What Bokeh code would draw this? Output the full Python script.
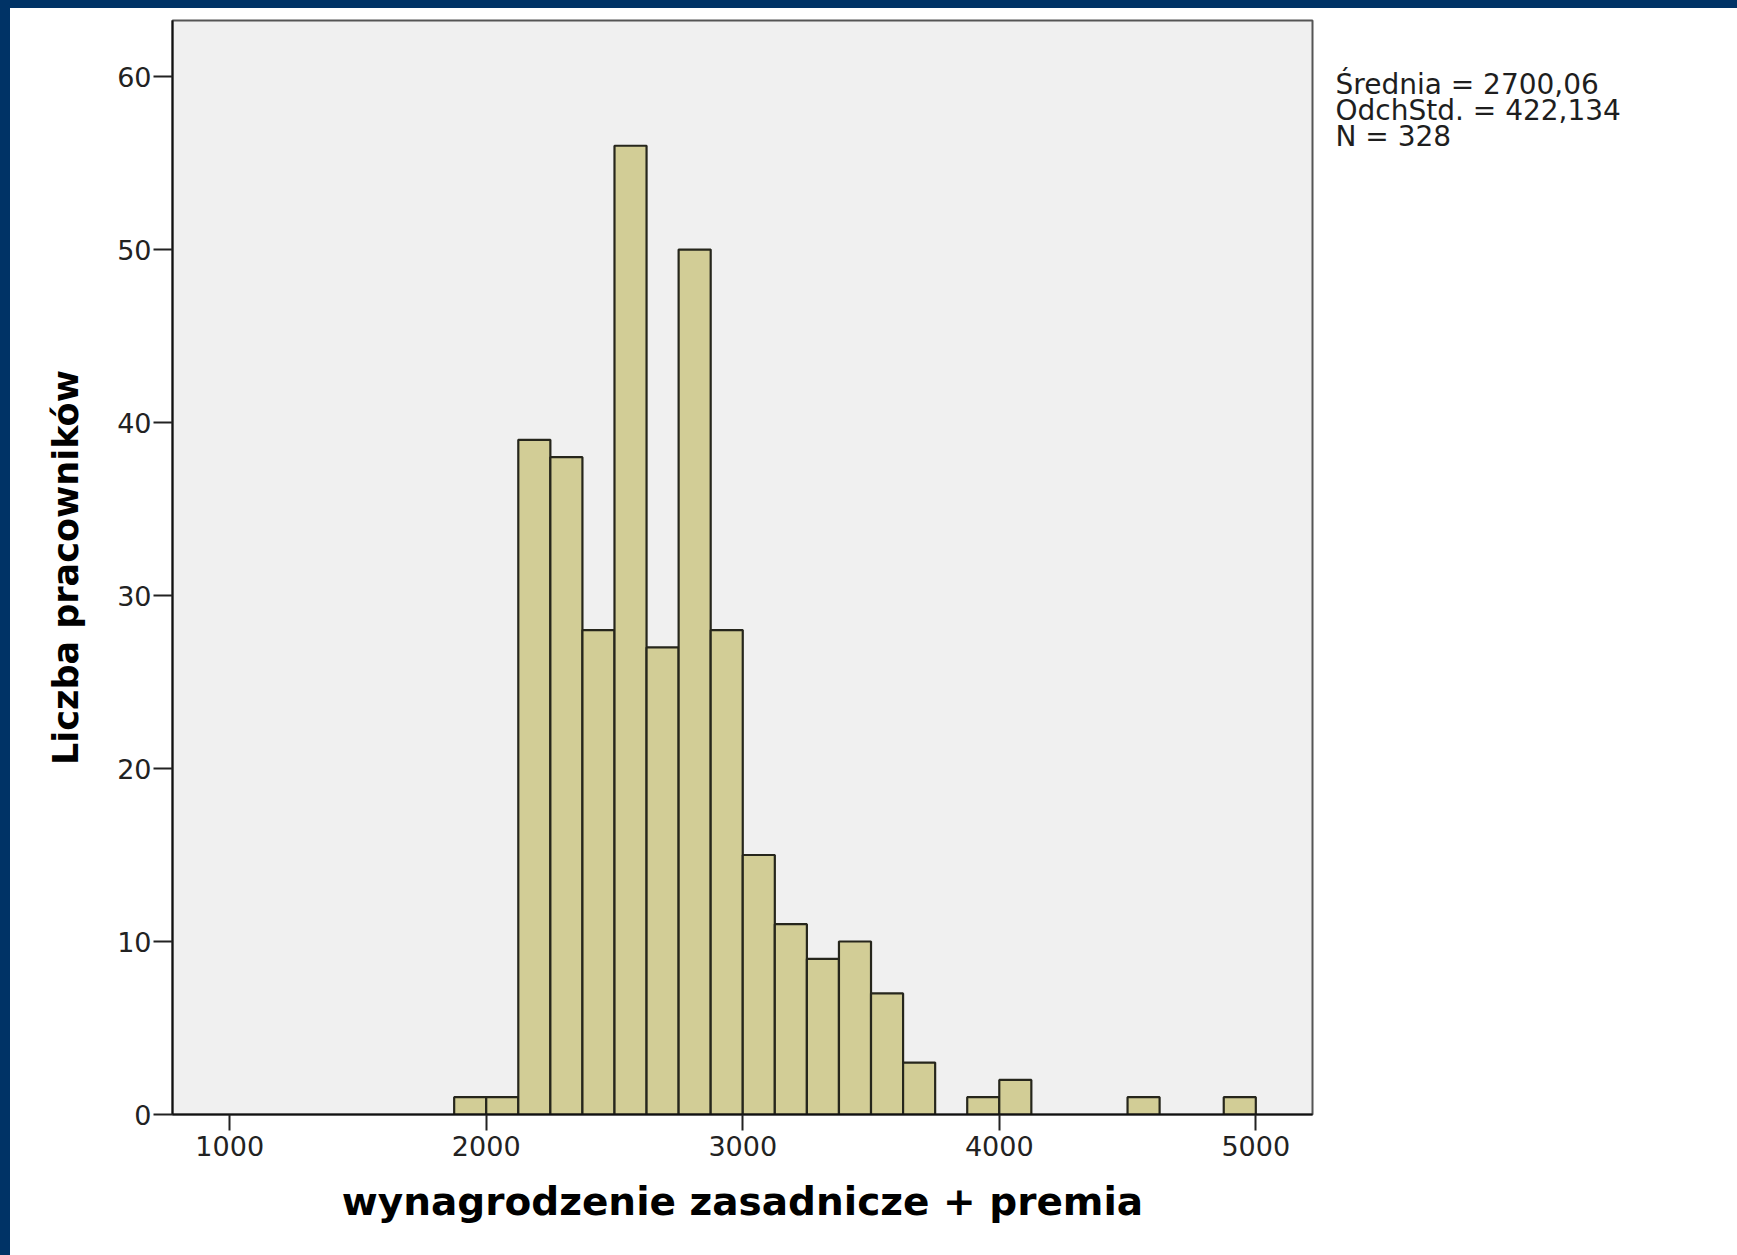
from bokeh.plotting import figure
from bokeh.layouts import row
from bokeh.models import Range1d, FixedTicker, GlobalInlineStyleSheet
from bokeh.core.properties import value
from bokeh.embed import file_html
from bokeh.resources import INLINE

# ---- data ----
bin_left = [1875, 2000, 2125, 2250, 2375, 2500, 2625, 2750, 2875, 3000,
            3125, 3250, 3375, 3500, 3625, 3875, 4000, 4500, 4875]
bin_right = [2000, 2125, 2250, 2375, 2500, 2625, 2750, 2875, 3000, 3125,
             3250, 3375, 3500, 3625, 3750, 4000, 4125, 4625, 5000]
counts = [1, 1, 39, 38, 28, 56, 27, 50, 28, 15,
          11, 9, 10, 7, 3, 1, 2, 1, 1]
x_ticks = [1000, 2000, 3000, 4000, 5000]
y_ticks = [0, 10, 20, 30, 40, 50, 60]
stats_lines = ["Średnia = 2700,06", "OdchStd. = 422,134", "N = 328"]
x_title = "wynagrodzenie zasadnicze + premia"
y_title = "Liczba pracowników"

W, H = 1727, 1247
W_MAIN = 1312
FRAME_LEFT, FRAME_RIGHT = 162, 1302     # figure pixels
FRAME_TOP, FRAME_BOTTOM = 12, 1106
FONT = "DejaVu Sans"

p = figure(width=W_MAIN, height=H, output_backend="svg", toolbar_location=None,
           x_range=Range1d(777, 5221), y_range=Range1d(0, 63.24),
           min_border_left=FRAME_LEFT, min_border_right=W_MAIN - FRAME_RIGHT,
           min_border_top=FRAME_TOP, min_border_bottom=H - FRAME_BOTTOM)

p.stylesheets = [GlobalInlineStyleSheet(css=
    "html{overflow:hidden;background:#003366;}"
    "body{margin:0;padding:8px 0 0 10px;background:#003366;}")]
p.styles = {"background-color": "#FFFFFF"}

p.background_fill_color = "#F0F0F0"
p.border_fill_color = "#FFFFFF"
p.outline_line_color = "#555555"
p.outline_line_width = 2
p.xgrid.visible = False
p.ygrid.visible = False

p.quad(left=bin_left, right=bin_right, bottom=0, top=counts,
       fill_color="#D2CD96", line_color="#26261C", line_width=2.2)

for ax in (p.xaxis[0], p.yaxis[0]):
    ax.axis_line_color = "#111111"
    ax.axis_line_width = 2
    ax.major_tick_line_color = "#222222"
    ax.major_tick_line_width = 2
    ax.minor_tick_line_color = None
    ax.major_tick_in = 0
    ax.major_label_text_font = FONT
    ax.major_label_text_font_size = "27px"
    ax.major_label_text_color = "#222222"
    ax.axis_label_text_font = FONT
    ax.axis_label_text_font_style = "bold"
    ax.axis_label_text_color = "#000000"

p.xaxis.ticker = FixedTicker(ticks=x_ticks)
p.yaxis.ticker = FixedTicker(ticks=y_ticks)
p.xaxis.major_tick_out = 16
p.yaxis.major_tick_out = 19
p.xaxis.major_label_standoff = 5
p.yaxis.major_label_standoff = 2

p.xaxis.axis_label = x_title
p.xaxis.axis_label_text_font_size = "39px"
p.xaxis.axis_label_standoff = 20
p.yaxis.axis_label = y_title
p.yaxis.axis_label_text_font_size = "35px"
p.yaxis.axis_label_standoff = 28

# ---- side panel carrying the statistics text (data units = pixels) ----
W_SIDE = W - W_MAIN
side = figure(width=W_SIDE, height=H, output_backend="svg",
              toolbar_location=None, x_range=Range1d(0, W_SIDE),
              y_range=Range1d(FRAME_BOTTOM, FRAME_TOP),
              x_axis_type=None, y_axis_type=None,
              min_border_left=0, min_border_right=0,
              min_border_top=FRAME_TOP, min_border_bottom=H - FRAME_BOTTOM,
              outline_line_color=None)
side.styles = {"background-color": "#FFFFFF"}
side.grid.visible = False
side.background_fill_color = "#FFFFFF"
side.border_fill_color = "#FFFFFF"

text_x = [13, 13, 13]
text_baseline_y = [76, 102, 128]
side.text(x=text_x, y=text_baseline_y, text=stats_lines,
          text_font=value(FONT), text_font_size="28px", text_color="#1E1E1E",
          text_baseline="alphabetic", text_align="left")

layout = row(p, side, styles={"background-color": "#FFFFFF"})
open("out.html", "w").write(file_html(layout, INLINE))
